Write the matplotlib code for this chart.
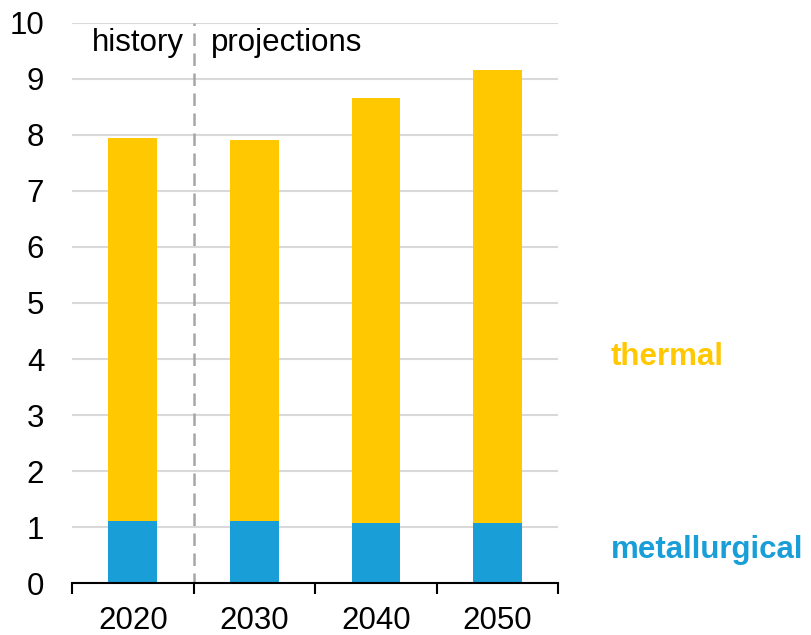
import matplotlib.pyplot as plt
import numpy as np

plt.rcParams['font.family'] = ['Liberation Sans', 'DejaVu Sans']

years = ['2020', '2030', '2040', '2050']
metallurgical = [1.11, 1.12, 1.08, 1.075]
total = [7.95, 7.91, 8.66, 9.16]
thermal = [t - m for t, m in zip(total, metallurgical)]

yellow = '#FFC800'
blue = '#1A9ED8'

fig = plt.figure(figsize=(8.11, 6.35), dpi=100)
ax = fig.add_axes([0.0888, 0.0814, 0.5995, 0.8829])

x = np.arange(len(years))
ax.bar(x, metallurgical, width=0.4, color=blue, zorder=3)
ax.bar(x, thermal, width=0.4, bottom=metallurgical, color=yellow, zorder=3)

ax.set_xlim(-0.5, 3.5)
ax.set_ylim(0, 10)
ax.set_yticks(range(0, 11))
ax.yaxis.grid(True, color='#D9D9D9', linewidth=1.5, zorder=0)
ax.set_axisbelow(True)

for s in ['left', 'right', 'top']:
    ax.spines[s].set_visible(False)
ax.spines['bottom'].set_linewidth(1.5)
ax.spines['bottom'].set_zorder(4)

ax.set_xticks(x)
ax.set_xticklabels(years)
ax.set_xticks(np.arange(-0.5, 4, 1), minor=True)
ax.tick_params(axis='x', which='major', length=0, labelsize=22.5, pad=16)
ax.tick_params(axis='x', which='minor', length=8, width=1.5)
ax.tick_params(axis='y', length=0, labelsize=22.5, pad=20)

# history / projections divider
ax.axvline(0.5, ymin=0, ymax=1, color='#A6A6A6', linestyle=(1, (5, 3)), linewidth=1.8, zorder=2)
ax.text(0.42, 9.63, 'history', ha='right', va='center', fontsize=22.5)
ax.text(0.64, 9.63, 'projections', ha='left', va='center', fontsize=22.5)

# series labels
ax.text(3.93, 4.04, 'thermal', ha='left', va='center', fontsize=22.5,
        fontweight='bold', color=yellow, clip_on=False)
ax.text(3.93, 0.6, 'metallurgical', ha='left', va='center', fontsize=22.5,
        fontweight='bold', color=blue, clip_on=False)

fig.savefig('out.png', dpi=100)
